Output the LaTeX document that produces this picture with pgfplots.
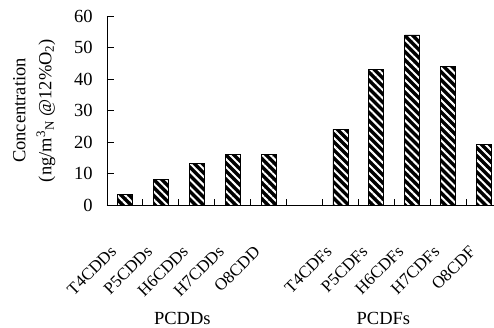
\documentclass[border=0pt]{standalone}
\usepackage{fontspec}
\setmainfont{Liberation Serif}
\usepackage{pgfplots}
\pgfplotsset{compat=1.18}
\usetikzlibrary{patterns.meta}
\begin{document}
\fontsize{18.5bp}{22bp}\selectfont
\begin{tikzpicture}
\begin{axis}[
  scale only axis, width=387bp, height=189bp,
  clip=false,
  ymin=0, ymax=60, ytick={0,10,...,60},
  xmin=-0.5, xmax=10.28,
  axis y line*=left, axis x line*=bottom,
  axis line style={line width=0.8bp},
  /pgf/number format/assume math mode=true,
  tick label style={font=\fontsize{18.5bp}{22bp}\selectfont},
  yticklabel style={xshift=-8bp},
  xtick={0,1,2,3,4,6,7,8,9,10},
  xticklabels={T4CDDs,P5CDDs,H6CDDs,H7CDDs,O8CDD,T4CDFs,P5CDFs,H6CDFs,H7CDFs,O8CDF},
  xticklabel style={rotate=45, anchor=north east, inner sep=1bp, xshift=-38bp, yshift=-16bp,
    font=\fontsize{17bp}{20bp}\selectfont},
  minor xtick={0.5,1.5,...,9.5},
  major tick length=7bp, minor tick length=6bp,
  major x tick style={draw=none},
  minor x tick style={line width=0.8bp, black},
  major y tick style={line width=0.8bp, black},
  ylabel={Concentration\\(ng/m\textsuperscript{3}\textsubscript{N} @12\%O\textsubscript{2})},
  ylabel style={align=center, font=\fontsize{18.5bp}{26bp}\selectfont,
    at={(axis description cs:-0.133,0.5)}, anchor=south, inner sep=0pt},
]
\addplot[ybar, bar width=15bp, fill=black, draw=black, line width=0.6bp,
  postaction={pattern={Lines[angle=-45,distance=5.7bp,line width=2bp]}, pattern color=white}]
  coordinates {(0,3.3) (1,8.2) (2,13.2) (3,16) (4,16) (6,24) (7,43) (8,54) (9,44) (10,19.3)};
\node at (axis cs:1.6,0) [yshift=-113bp] {PCDDs};
\node at (axis cs:7.2,0) [yshift=-113bp] {PCDFs};
\coordinate (bl) at (rel axis cs:0,0);
\coordinate (tr) at (rel axis cs:1,1);
\end{axis}
\pgfresetboundingbox
\path ([shift={(-107bp,-123bp)}]bl) rectangle ([shift={(0bp,16bp)}]tr);
\end{tikzpicture}
\end{document}
